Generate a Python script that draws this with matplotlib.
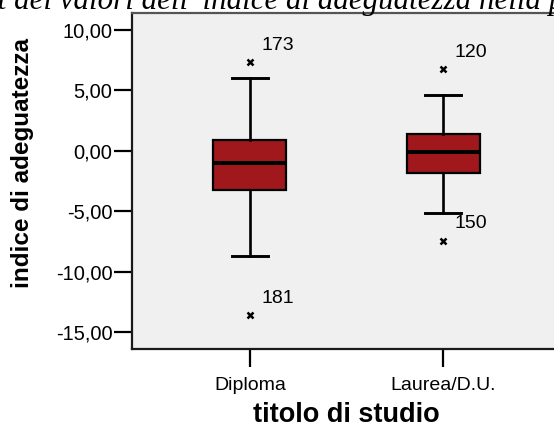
import matplotlib
matplotlib.use("Agg")
import matplotlib.pyplot as plt

# Summary statistics of the adequacy index by education level
categories = ["Diploma", "Laurea/D.U."]
q1 = [-3.22, -1.79]
median = [-0.97, -0.05]
q3 = [0.91, 1.40]
whisker_low = [-8.70, -5.15]
whisker_high = [6.01, 4.63]
outliers = [[7.33, -13.58], [6.80, -7.41]]
outlier_ids = [["173", "181"], ["120", "150"]]

y_ticks = [10, 5, 0, -5, -10, -15]
y_tick_labels = ["10,00", "5,00", "0,00", "-5,00", "-10,00", "-15,00"]

W, H, DPI = 554, 429, 100
fig = plt.figure(figsize=(W / DPI, H / DPI), dpi=DPI)
fig.patch.set_facecolor("white")

ax = fig.add_axes([132 / W, 1 - 349.3 / H, (561 - 132) / W, (349.3 - 12.7) / H])
ax.set_facecolor("#f0f0f0")

stats = []
for i, name in enumerate(categories):
    stats.append(dict(label=name, med=median[i], q1=q1[i], q3=q3[i],
                      whislo=whisker_low[i], whishi=whisker_high[i],
                      fliers=outliers[i]))

positions = [1, 2]
ax.bxp(stats, positions=positions, widths=0.378, capwidths=0.187,
       patch_artist=True, showfliers=True,
       boxprops=dict(facecolor="#a0181c", edgecolor="black", linewidth=1.6),
       medianprops=dict(color="black", linewidth=2.9),
       whiskerprops=dict(color="black", linewidth=1.9),
       capprops=dict(color="black", linewidth=2.1),
       flierprops=dict(marker="x", markersize=4, markeredgewidth=1.8,
                       markeredgecolor="black", linestyle="none"))

for i, pos in enumerate(positions):
    for val, ident in zip(outliers[i], outlier_ids[i]):
        ax.annotate(ident, (pos, val), xytext=(8, 12), textcoords="offset points",
                    fontsize=14, family="Liberation Sans", va="center", ha="left")

ax.set_xlim(0.389, 2.611)
ax.set_ylim(-16.39, 11.43)
ax.set_yticks(y_ticks)
ax.set_yticklabels(y_tick_labels, family="Liberation Sans", fontsize=14.5)
ax.set_xticks(positions)
ax.set_xticklabels(categories, family="Liberation Sans", fontsize=14)
ax.tick_params(axis="both", length=13, width=1.6, color="black")
ax.tick_params(axis="x", pad=7)
ax.tick_params(axis="y", pad=1)

for side in ("left", "bottom"):
    ax.spines[side].set_linewidth(1.6)
    ax.spines[side].set_color("#1a1a1a")
ax.spines["top"].set_linewidth(1.6)
ax.spines["top"].set_color("#555555")
ax.spines["right"].set_visible(False)

fig.text(23 / W, 1 - 163 / H, "indice di adeguatezza", family="Liberation Sans",
         fontsize=17.5, fontweight="bold", rotation=90, ha="center", va="center")
fig.text(346 / W, 1 - 422 / H, "titolo di studio", family="Liberation Sans",
         fontsize=19.5, fontweight="bold", ha="center", va="baseline")

fig.text(-90 / W, 1 - 9 / H,
         "Boxplot dei valori dell' indice di adeguatezza nella popolazione",
         family="Liberation Serif", style="italic", fontsize=22.3,
         ha="left", va="baseline")

fig.savefig("out.png", dpi=DPI)
